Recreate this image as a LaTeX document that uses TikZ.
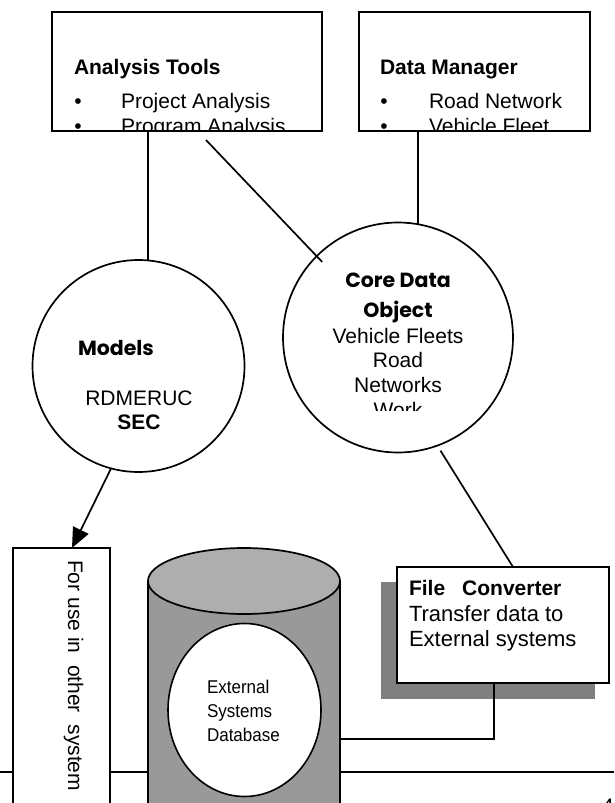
\documentclass[tikz,border=0pt]{standalone}
\usepackage{fontspec}
\setmainfont{Liberation Sans}
\newfontfamily\comicfont{Poppins}
\newfontfamily\narrowfont[FakeStretch=0.92]{Liberation Sans}
\usetikzlibrary{shapes.geometric,arrows.meta,calc}

\begin{document}
\begin{tikzpicture}[x=1pt,y=-1pt,
  every node/.style={inner sep=0pt,outer sep=0pt},
  ln/.style={line width=1.7pt},
  boxshape/.style={draw,line width=1.8pt,fill=white,rectangle},
  circshape/.style={draw,line width=1.7pt,fill=white,circle},
  txt/.style={font=\fontsize{21}{25}\selectfont},
  btxt/.style={font=\bfseries\fontsize{21}{25}\selectfont},
  comic/.style={font=\comicfont\bfseries\fontsize{20.5}{24}\selectfont},
  fctxt/.style={font=\fontsize{22}{26}\selectfont},
  dbtxt/.style={font=\narrowfont\fontsize{18.5}{24}\selectfont},
  arrowtip/.style={-{Triangle[length=20pt,width=17pt]}}]
\useasboundingbox (0,0) rectangle (614,803);
\clip (0,0) rectangle (614,803);
\definecolor{dbbody}{HTML}{999999}
\definecolor{dbtop}{HTML}{AEAEAE}
\definecolor{shadowgray}{HTML}{808080}

% page rule running behind the lower shapes
\coordinate (rl) at (0,772);
\coordinate (rr) at (614,772);
\draw[ln] (rl) -- (rr);

% file converter with its drop shadow
\fill[shadowgray] (381,582) rectangle (595,699);
\node[boxshape,minimum width=212pt,minimum height=116pt] (fc) at (503,625) {};
\node[anchor=base west,btxt] (fc1) at (409,595) {File\hspace{17pt}Converter};
\node[anchor=base west,fctxt] (fc2) at (409,621) {Transfer data to};
\node[anchor=base west,fctxt] (fc3) at (409,646) {External systems};

% vertical box for other systems
\node[boxshape,minimum width=97pt,minimum height=282pt] (fu) at (61.5,689) {};
\node[rotate=-90,anchor=base west,txt] (futxt) at (68,560) {For use in\ \ other\ \ system};

% external systems database cylinder
\fill[dbbody] (148,581) rectangle (340,830);
\draw[ln] (148,581) -- (148,830);
\draw[ln] (340,581) -- (340,830);
\draw[ln,fill=dbtop] (244,581) ellipse [x radius=96,y radius=33];
\coordinate (dbr) at (340,739);
\node[draw,ellipse,line width=1.6pt,fill=white,minimum width=153pt,minimum height=173pt] (dbin) at (244.5,710) {};
\node[anchor=base west,dbtxt] (dbl1) at (207,693) {External};
\node[anchor=base west,dbtxt] (dbl2) at (207,717) {Systems};
\node[anchor=base west,dbtxt] (dbl3) at (207,741) {Database};

% models circle
\node[circshape,minimum size=212pt] (models) at (138.5,366) {};
\node[anchor=base west,comic] (mt) at (78,355) {Models};
\node[anchor=base,txt] (m1) at (139,405) {RDMERUC};
\node[anchor=base,btxt] (m2) at (139,429) {SEC};

% core data object circle
\node[circshape,minimum size=230pt] (core) at (398,337.5) {};
\begin{scope}
  \clip (283,200) rectangle (513,410);
  \node[anchor=base,comic] (c1) at (398,287) {Core Data};
  \node[anchor=base,comic] (c2) at (398,317) {Object};
  \node[anchor=base,txt] (c3) at (398,343) {Vehicle Fleets};
  \node[anchor=base,txt] (c4) at (398,367) {Road};
  \node[anchor=base,txt] (c5) at (398,392) {Networks};
  \node[anchor=base,txt] (c6) at (398,417) {Work};
\end{scope}

% analysis tools box
\node[boxshape,minimum width=270pt,minimum height=119pt] (tools) at (187,71.5) {};
\begin{scope}
  \clip (52,12) rectangle (322,130);
  \node[anchor=base west,btxt] (t0) at (74,74) {Analysis Tools};
  \node[anchor=base,txt] (tb1) at (78,108) {\textbullet};
  \node[anchor=base west,txt] (t1) at (121,108) {Project Analysis};
  \node[anchor=base,txt] (tb2) at (78,133) {\textbullet};
  \node[anchor=base west,txt] (t2) at (121,133) {Program Analysis};
\end{scope}

% data manager box
\node[boxshape,minimum width=231pt,minimum height=119pt] (dm) at (474.5,71.5) {};
\begin{scope}
  \clip (359,12) rectangle (590,130);
  \node[anchor=base west,btxt] (d0) at (380,74) {Data Manager};
  \node[anchor=base,txt] (db1) at (384,108) {\textbullet};
  \node[anchor=base west,txt] (d1) at (429,108) {Road Network};
  \node[anchor=base,txt] (db2) at (384,133) {\textbullet};
  \node[anchor=base west,txt] (d2) at (429,133) {Vehicle Fleet};
\end{scope}

% connectors
\draw[ln] (models.85) -- (models.85 |- tools.south);
\draw[ln] (core.80) -- (core.80 |- dm.south);
\draw[ln,shorten >=-8pt] ($(tools.south west)+(154,9)$) -- (core.135);
\draw[ln,shorten <=6pt] (core.-70) -- ($(fc.north west)+(116,0)$);
\draw[ln,arrowtip] (models.-105) -- ($(fu.north west)+(59,0)$);
\draw[ln] (dbr) -| ($(fc.south west)+(97,0)$);

% page number
\node[anchor=base west,txt] (pg) at (602,813) {4};
\end{tikzpicture}
\end{document}
